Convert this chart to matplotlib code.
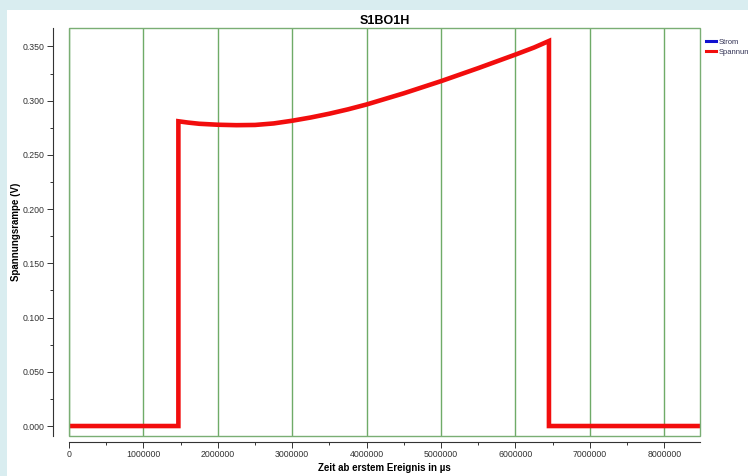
import matplotlib.pyplot as plt
from matplotlib.patches import Rectangle
from matplotlib.lines import Line2D
from matplotlib.ticker import MultipleLocator, FormatStrFormatter

plt.rcParams['font.family'] = ['Liberation Sans', 'DejaVu Sans']

# Spannungsrampe über der Zeit (µs)
zeit = [0, 1470000, 1470000, 1600000, 1750000, 2000000, 2250000, 2500000,
        2750000, 3000000, 3250000, 3500000, 3750000, 4000000, 4500000,
        5000000, 5500000, 6000000, 6250000, 6450000, 6450000, 8480000]
spannung = [0.0, 0.0, 0.281, 0.2798, 0.2787, 0.2778, 0.2774, 0.2776,
            0.2790, 0.2815, 0.2845, 0.2880, 0.2920, 0.2965, 0.3068,
            0.3180, 0.3300, 0.3425, 0.3490, 0.3550, 0.0, 0.0]
# Strom ist leer
strom_zeit = []
strom = []

fig = plt.figure(figsize=(7.48, 4.76), dpi=100)
fig.patch.set_facecolor('#d9edf0')
fig.patches.append(Rectangle((7 / 748, 0), 1, (476 - 10) / 476,
                             transform=fig.transFigure, facecolor='white',
                             edgecolor='none', zorder=-10))

ax = fig.add_axes([69 / 748, 40 / 476, 631 / 748, 408 / 476])
ax.set_facecolor('white')

ax.plot(strom_zeit, strom, color='#1010d0', lw=2.2, label='Strom')
ax.plot(zeit, spannung, color='#f20d0d', lw=3.3, label='Spannungsrampe',
        solid_joinstyle='miter', zorder=3)

ax.set_xlim(0, 8480000)
ax.set_ylim(-0.0092, 0.367)

ax.xaxis.set_major_locator(MultipleLocator(1000000))
ax.xaxis.set_minor_locator(MultipleLocator(500000))
ax.xaxis.set_major_formatter(FormatStrFormatter('%d'))
ax.yaxis.set_major_locator(MultipleLocator(0.05))
ax.yaxis.set_minor_locator(MultipleLocator(0.025))
ax.yaxis.set_major_formatter(FormatStrFormatter('%.3f'))

ax.grid(axis='x', which='major', color='#6fab68', lw=1.0, snap=True)
ax.grid(axis='y', visible=False)

# grüner Rahmen, Achsen nach außen versetzt
for s in ['top', 'right']:
    ax.spines[s].set_visible(False)
ax.spines['left'].set_position(('outward', 11.5))
ax.spines['bottom'].set_position(('outward', 4.3))
for s in ['left', 'bottom']:
    ax.spines[s].set_color('#333333')
    ax.spines[s].set_linewidth(0.8)
ax.add_patch(Rectangle((0, 0), 1, 1, transform=ax.transAxes, fill=False,
                       edgecolor='#7aae74', lw=1.0, zorder=4, clip_on=False))

ax.tick_params(which='major', length=4, width=0.7, color='#333333',
               labelsize=6.3, labelcolor='#333333', pad=2)
ax.tick_params(which='minor', length=2.5, width=0.7, color='#333333')

ax.set_title('S1BO1H', fontsize=9, fontweight='bold', pad=3)
ax.set_xlabel('Zeit ab erstem Ereignis in µs', fontsize=7,
              fontweight='bold', labelpad=3)
ax.set_ylabel('Spannungsrampe (V)', fontsize=7, fontweight='bold',
              labelpad=1)

handles = [Line2D([], [], color='#1010d0', lw=2.2),
           Line2D([], [], color='#f20d0d', lw=2.2)]
fig.legend(handles, ['Strom', 'Spannungsrampe'], loc='upper left',
           bbox_to_anchor=(702 / 748, 1 - 35 / 476), frameon=False,
           fontsize=5.5, handlelength=1.3, handletextpad=0.4,
           labelspacing=0.3, borderpad=0, labelcolor='#333355')

fig.savefig('out.png', dpi=100, facecolor=fig.get_facecolor())
